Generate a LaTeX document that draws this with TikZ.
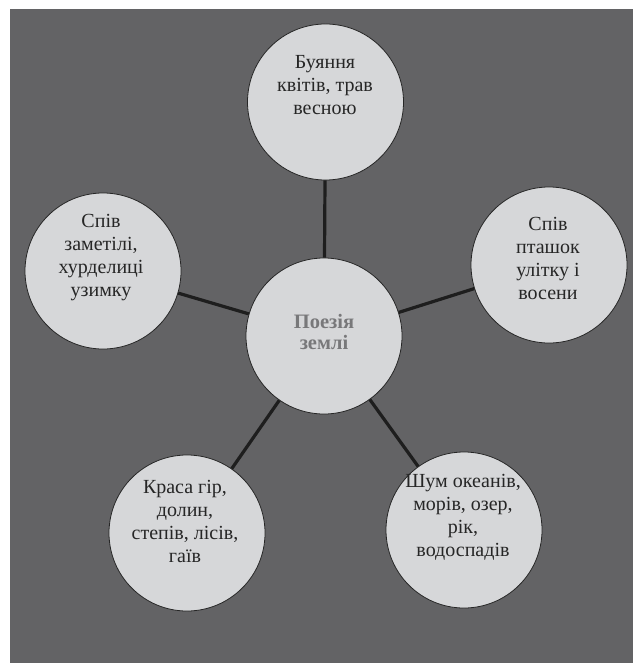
\documentclass[tikz,border=0pt]{standalone}
\usepackage{fontspec}
\setmainfont{Liberation Serif}
\definecolor{bg}{HTML}{636365}
\definecolor{bubblefill}{HTML}{D6D7D9}
\definecolor{txt}{HTML}{262626}
\definecolor{mid}{HTML}{78787A}
\definecolor{linkc}{HTML}{1E1E1E}
\begin{document}
\begin{tikzpicture}[x=1pt,y=-1pt,
  bubble/.style={circle, draw=black!85, line width=0.8pt, fill=bubblefill, minimum size=156pt, inner sep=0pt},
  words/.style={align=center, font=\fontsize{20}{23}\selectfont, text=txt},
  link/.style={draw=linkc, line width=3.2pt}]
\useasboundingbox (0,0) rectangle (633,663);
\fill[white] (0,0) rectangle (633,663);
\fill[bg] (10,9) rectangle (633,663);
% bubbles
\node[bubble] (c)  at (324,336) {};
\node[bubble] (t)  at (325.5,102) {};
\node[bubble] (l)  at (103,271) {};
\node[bubble] (r)  at (549,265) {};
\node[bubble] (bl) at (187,533) {};
\node[bubble] (br) at (464,530) {};
% links
\draw[link] (c) -- (t);
\draw[link] (c) -- (l);
\draw[link] (c) -- (r);
\draw[link] (c) -- (bl);
\draw[link] (c) -- (br);
% texts
\node[words, text=mid, font=\fontsize{20.5}{21}\selectfont\bfseries] (ct) at (324,332) {Поезія\\землі};
\node[words] (tt)  at (325,85)  {Буяння\\квітів, трав\\весною};
\node[words] (lt)  at (101,258) {Спів\\заметілі,\\хурделиці\\узимку};
\node[words] (rt)  at (548,258) {Спів\\пташок\\улітку і\\восени};
\node[words] (blt) at (185,521) {Краса гір,\\долин,\\степів, лісів,\\гаїв};
\node[words] (brt) at (463,517) {Шум океанів,\\морів, озер,\\рік,\\водоспадів};
\end{tikzpicture}
\end{document}
